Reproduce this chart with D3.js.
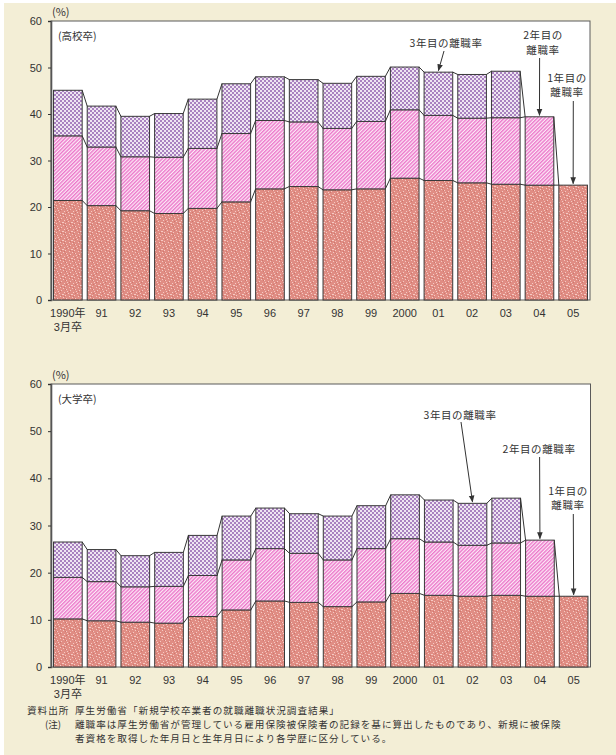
<!DOCTYPE html>
<html><head><meta charset="utf-8">
<script src="https://cdn.jsdelivr.net/npm/d3@7"></script>
<style>
html,body{margin:0;padding:0;background:#fff;}
svg{display:block;}
text{font-family:"Liberation Sans","Noto Sans CJK JP",sans-serif;fill:#333;}
.jp{font-family:"Noto Sans CJK JP",sans-serif;}
</style></head>
<body>
<svg id="c" width="616" height="755"></svg>
<script>
// ---- data (cumulative separation rates, %) ----
const years = ["1990年","91","92","93","94","95","96","97","98","99","2000","01","02","03","04","05"];
const yTicks = [0,10,20,30,40,50,60];
// 高校卒
const hsYear1 = [21.4,20.3,19.2,18.6,19.7,21.1,23.9,24.4,23.7,23.9,26.2,25.7,25.2,24.9,24.7,24.7];
const hsYear2 = [35.3,32.9,30.8,30.7,32.6,35.8,38.6,38.3,36.9,38.4,40.9,39.7,39.1,39.2,39.4,null];
const hsYear3 = [45.1,41.7,39.5,40.1,43.2,46.5,48.0,47.4,46.6,48.1,50.1,49.0,48.5,49.2,null,null];
// 大学卒
const ucYear1 = [10.2,9.8,9.5,9.3,10.7,12.1,14.0,13.7,12.8,13.8,15.6,15.2,15.0,15.2,15.0,15.0];
const ucYear2 = [19.0,18.1,17.0,17.1,19.4,22.7,25.1,24.1,22.7,25.1,27.2,26.5,25.8,26.3,26.9,null];
const ucYear3 = [26.5,24.9,23.6,24.3,27.9,32.0,33.7,32.5,32.0,34.2,36.5,35.4,34.7,35.8,null,null];

const svg = d3.select("#c");
svg.append("rect").attr("x",4).attr("y",3).attr("width",612).attr("height",752).attr("fill","#f3eed6");

// ---- patterns ----
const defs = svg.append("defs");
// speckle (1st year)
const sp = defs.append("pattern").attr("id","pSpeck").attr("patternUnits","userSpaceOnUse").attr("width",9).attr("height",9);
sp.append("rect").attr("width",9).attr("height",9).attr("fill","#e08d84");
const lightDots = [[0,0],[3,1],[7,2],[1,4],[5,5],[8,6],[2,7],[6,8],[4,3],[0,6]];
lightDots.forEach(p=>sp.append("rect").attr("x",p[0]).attr("y",p[1]).attr("width",1).attr("height",1).attr("fill","#f6cac3"));
const darkDots = [[2,1],[6,3],[3,5],[7,7],[1,8]];
darkDots.forEach(p=>sp.append("rect").attr("x",p[0]).attr("y",p[1]).attr("width",1).attr("height",1).attr("fill","#cf776d"));
// stripes (2nd year)
const st = defs.append("pattern").attr("id","pStripe").attr("patternUnits","userSpaceOnUse")
  .attr("width",2.6).attr("height",10).attr("patternTransform","rotate(45)");
st.append("rect").attr("width",2.6).attr("height",10).attr("fill","#fcecf7");
st.append("rect").attr("width",1.4).attr("height",10).attr("fill","#ec78cb");
// checker (3rd year)
const ck = defs.append("pattern").attr("id","pCheck").attr("patternUnits","userSpaceOnUse").attr("width",4).attr("height",4);
ck.append("rect").attr("width",4).attr("height",4).attr("fill","#efe6f2");
ck.append("rect").attr("width",2).attr("height",2).attr("fill","#a982c0");
ck.append("rect").attr("x",2).attr("y",2).attr("width",2).attr("height",2).attr("fill","#a982c0");
// arrow marker
defs.append("marker").attr("id","arr").attr("viewBox","0 0 10 10").attr("refX",9).attr("refY",5)
  .attr("markerWidth",7).attr("markerHeight",7).attr("markerUnits","userSpaceOnUse").attr("orient","auto")
  .append("path").attr("d","M0,1 L10,5 L0,9 Z").attr("fill","#333");

const fills = ["url(#pSpeck)","url(#pStripe)","url(#pCheck)"];

function drawChart(cfg){
  const {top,bottom,left,right,y1,y2,y3,title,notes} = cfg;
  const g = svg.append("g");
  const x = d3.scaleBand().domain(years).range([left,right]).paddingInner(0.15).paddingOuter(0.075);
  const y = d3.scaleLinear().domain([0,60]).range([bottom,top]);
  g.append("rect").attr("x",left).attr("y",top).attr("width",right-left).attr("height",bottom-top)
    .attr("fill","#fff").attr("stroke","#5a5a5a").attr("stroke-width",1);

  const rows = years.map((yr,i)=>({yr, lv:[y1[i],y2[i],y3[i]].filter(v=>v!=null)}));
  // bars
  rows.forEach(r=>{
    r.lv.forEach((v,k)=>{
      const lo = k===0?0:r.lv[k-1];
      g.append("rect").attr("x",x(r.yr)).attr("width",x.bandwidth())
        .attr("y",y(v)).attr("height",y(lo)-y(v))
        .attr("fill",fills[k]).attr("stroke","#3a3a3a").attr("stroke-width",1);
    });
  });
  // connectors
  for(let i=0;i<rows.length-1;i++){
    const a=rows[i], b=rows[i+1];
    a.lv.forEach((v,k)=>{
      const kb = Math.min(k,b.lv.length-1);
      g.append("line").attr("x1",x(a.yr)+x.bandwidth()).attr("y1",y(v))
        .attr("x2",x(b.yr)).attr("y2",y(b.lv[kb]))
        .attr("stroke","#333").attr("stroke-width",1);
    });
  }
  // y axis
  const ax = g.append("g").attr("transform",`translate(${left},0)`)
    .call(d3.axisLeft(y).tickValues(yTicks).tickSize(3).tickPadding(6));
  ax.select(".domain").attr("stroke","#555").attr("stroke-width",1.6);
  ax.selectAll(".tick line").attr("stroke","#333");
  ax.selectAll(".tick text").attr("font-size","11px").attr("fill","#333")
    .attr("font-family",'"Liberation Sans",sans-serif');
  // x labels
  g.selectAll(".xl").data(years).enter().append("text")
    .attr("x",d=>x(d)+x.bandwidth()/2).attr("y",bottom+13).attr("dy","0.35em")
    .attr("text-anchor","middle").attr("font-size","11px").text(d=>d);
  g.append("text").attr("x",x(years[0])+x.bandwidth()/2).attr("y",bottom+27).attr("dy","0.35em")
    .attr("text-anchor","middle").attr("font-size","11px").text("3月卒");
  // unit & title
  g.append("text").attr("x",left+1).attr("y",top-9).attr("dy","0.35em").attr("font-size","11px").attr("class","jp").text("(%)");
  g.append("text").attr("x",left+7).attr("y",top+15.5).attr("dy","0.35em").attr("font-size","10.5px").attr("class","jp").text(title);

  // annotations
  notes.forEach(n=>{
    n.lines.forEach((t,j)=>{
      g.append("text").attr("x",n.tx).attr("y",n.ty+j*n.lh).attr("dy","0.35em")
        .attr("text-anchor","middle").attr("font-size","10.5px").attr("letter-spacing","0.6px")
        .attr("class","jp").text(t);
    });
    const i = years.indexOf(n.bar);
    const v = [y1[i],y2[i],y3[i]][n.level];
    g.append("line").attr("x1",n.ax).attr("y1",n.ay)
      .attr("x2",x(n.bar)+x.bandwidth()/2).attr("y2",y(v)-1.5)
      .attr("stroke","#333").attr("stroke-width",1).attr("marker-end","url(#arr)");
  });
}

drawChart({top:21,bottom:300,left:51,right:590,y1:hsYear1,y2:hsYear2,y3:hsYear3,title:"(高校卒)",
  notes:[
    {lines:["3年目の離職率"],tx:446,ty:43,lh:0,ax:444,ay:51,bar:"01",level:2},
    {lines:["2年目の","離職率"],tx:543,ty:35,lh:15.5,ax:539.6,ay:58,bar:"04",level:1},
    {lines:["1年目の","離職率"],tx:567,ty:78,lh:14,ax:573.3,ay:101,bar:"05",level:0}
  ]});
drawChart({top:384,bottom:667,left:51,right:590.5,y1:ucYear1,y2:ucYear2,y3:ucYear3,title:"(大学卒)",
  notes:[
    {lines:["3年目の離職率"],tx:460,ty:415,lh:0,ax:461,ay:422,bar:"02",level:2},
    {lines:["2年目の離職率"],tx:539,ty:449,lh:0,ax:539.6,ay:457,bar:"04",level:1},
    {lines:["1年目の","離職率"],tx:568,ty:491,lh:14.5,ax:573.3,ay:514,bar:"05",level:0}
  ]});

// footnotes
const fnSize = "9.6px", fnSpace = "1px";
const fn = svg.append("g");
fn.append("text").attr("class","jp").attr("x",27).attr("y",711).attr("dy","0.35em").attr("font-size",fnSize).attr("letter-spacing",fnSpace).text("資料出所");
fn.append("text").attr("class","jp").attr("x",75).attr("y",711).attr("dy","0.35em").attr("font-size",fnSize).attr("letter-spacing",fnSpace).text("厚生労働省「新規学校卒業者の就職離職状況調査結果」");
fn.append("text").attr("class","jp").attr("x",45).attr("y",725).attr("dy","0.35em").attr("font-size",fnSize).text("(注)");
fn.append("text").attr("class","jp").attr("x",75).attr("y",725).attr("dy","0.35em").attr("font-size",fnSize).attr("letter-spacing",fnSpace).text("離職率は厚生労働省が管理している雇用保険被保険者の記録を基に算出したものであり、新規に被保険");
fn.append("text").attr("class","jp").attr("x",75).attr("y",739).attr("dy","0.35em").attr("font-size",fnSize).attr("letter-spacing",fnSpace).text("者資格を取得した年月日と生年月日により各学歴に区分している。");
</script>
</body></html>
